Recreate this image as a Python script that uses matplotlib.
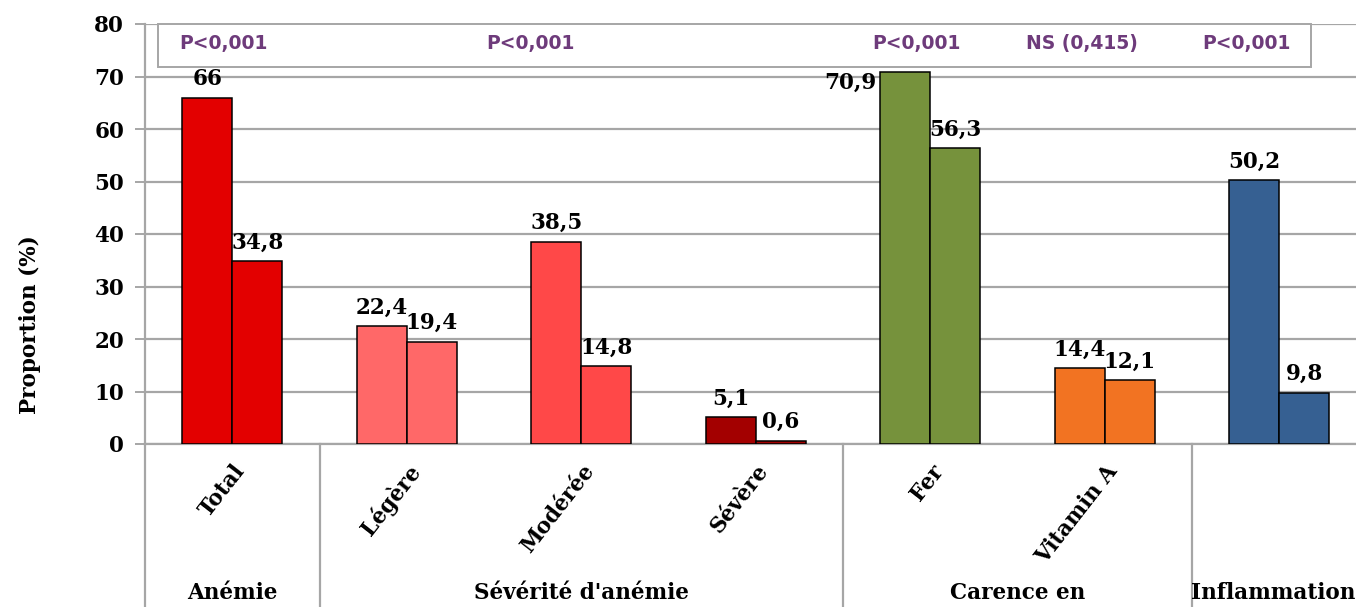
import numpy as np
import matplotlib
matplotlib.use('Agg')
import matplotlib.pyplot as plt
from matplotlib.patches import Rectangle
import matplotlib.transforms as mtransforms

categories = ['Total', 'Légère', 'Modérée', 'Sévère', 'Fer', 'Vitamin A', '']
group_a = [66, 22.4, 38.5, 5.1, 70.9, 14.4, 50.2]
group_b = [34.8, 19.4, 14.8, 0.6, 56.3, 12.1, 9.8]
bar_colors = ['#E30000', '#FF6868', '#FF4848', '#A30000', '#76923C', '#F27322', '#366092']

groups = ['Anémie', "Sévérité d'anémie", 'Carence en', 'Inflammation']
group_spans = [(-0.5, 0.5), (0.5, 3.5), (3.5, 5.5), (5.5, 6.5)]

p_labels = ['P<0,001', 'P<0,001', 'P<0,001', 'NS (0,415)', 'P<0,001']
p_pos = [-0.05, 1.71, 3.92, 4.87, 5.81]

serif = 'DejaVu Serif'
fs = 15.5
grid_col = '#A6A6A6'

fig = plt.figure(figsize=(13.56, 6.07), dpi=100)
ax = fig.add_axes([145 / 1356, 163 / 607, 7 * 174.5 / 1356, 420 / 607])

x = np.arange(len(categories))
w = 0.287
ax.bar(x - w / 2, group_a, w, color=bar_colors, edgecolor='black', linewidth=1.1, zorder=3)
ax.bar(x + w / 2, group_b, w, color=bar_colors, edgecolor='black', linewidth=1.1, zorder=3)

ax.set_xlim(-0.5, 6.5)
ax.set_ylim(0, 80)
ax.set_yticks(range(0, 81, 10))
ax.yaxis.grid(True, color=grid_col, linewidth=1.6, zorder=0)
ax.set_axisbelow(True)
for side in ['top', 'right']:
    ax.spines[side].set_visible(False)
for side in ['left', 'bottom']:
    ax.spines[side].set_color(grid_col)
    ax.spines[side].set_linewidth(1.6)
ax.tick_params(axis='y', length=7, width=1.4, color=grid_col, pad=8)
ax.tick_params(axis='x', length=0)
for lab in ax.get_yticklabels():
    lab.set_fontfamily(serif)
    lab.set_fontweight('bold')
    lab.set_fontsize(fs)

# category labels under the axis
ax.set_xticks(x)
ax.set_xticklabels([])
for xi, name in zip(x, categories):
    ax.annotate(name, xy=(xi, 0), xycoords=('data', 'axes fraction'),
                xytext=(0, -12), textcoords='offset points',
                rotation=52, ha='right', va='top', rotation_mode='anchor',
                fontfamily=serif, fontweight='bold', fontsize=fs)

# value labels
for xi, (a, b) in enumerate(zip(group_a, group_b)):
    if a > 70:
        ax.text(xi - w - 0.02, a - 2.1, f'{a:g}'.replace('.', ','), ha='right', va='center',
                fontfamily=serif, fontweight='bold', fontsize=fs)
    else:
        ax.text(xi - w / 2, a + 1.5, f'{a:g}'.replace('.', ','), ha='center', va='bottom',
                fontfamily=serif, fontweight='bold', fontsize=fs)
    ax.text(xi + w / 2, b + 1.5, f'{b:g}'.replace('.', ','), ha='center', va='bottom',
            fontfamily=serif, fontweight='bold', fontsize=fs)

# p-value box
ax.add_patch(Rectangle((-0.424, 71.8), 6.605, 8.2, facecolor='white', edgecolor=grid_col,
                       linewidth=1.4, zorder=4, clip_on=False))
for px, txt in zip(p_pos, p_labels):
    ax.text(px, 76.3, txt, ha='center', va='center', color='#6E3B7B',
            fontfamily='DejaVu Sans', fontweight='bold', fontsize=13.5, zorder=5)

# group separators and group labels
trans = mtransforms.blended_transform_factory(ax.transData, ax.transAxes)
for lo, hi in group_spans:
    ax.plot([lo, lo], [0, -0.4], transform=trans, color=grid_col, linewidth=1.6, clip_on=False)
for (lo, hi), name in zip(group_spans, groups):
    cx = min((lo + hi) / 2, 5.965)
    ax.text(cx, -0.381, name, transform=trans, ha='center', va='bottom',
            fontfamily=serif, fontweight='bold', fontsize=fs)

fig.text(30 / 1356, 1 - 325 / 607, 'Proportion (%)', rotation=90, ha='center', va='center',
         fontfamily=serif, fontweight='bold', fontsize=fs)

fig.savefig('out.png', dpi=100)
